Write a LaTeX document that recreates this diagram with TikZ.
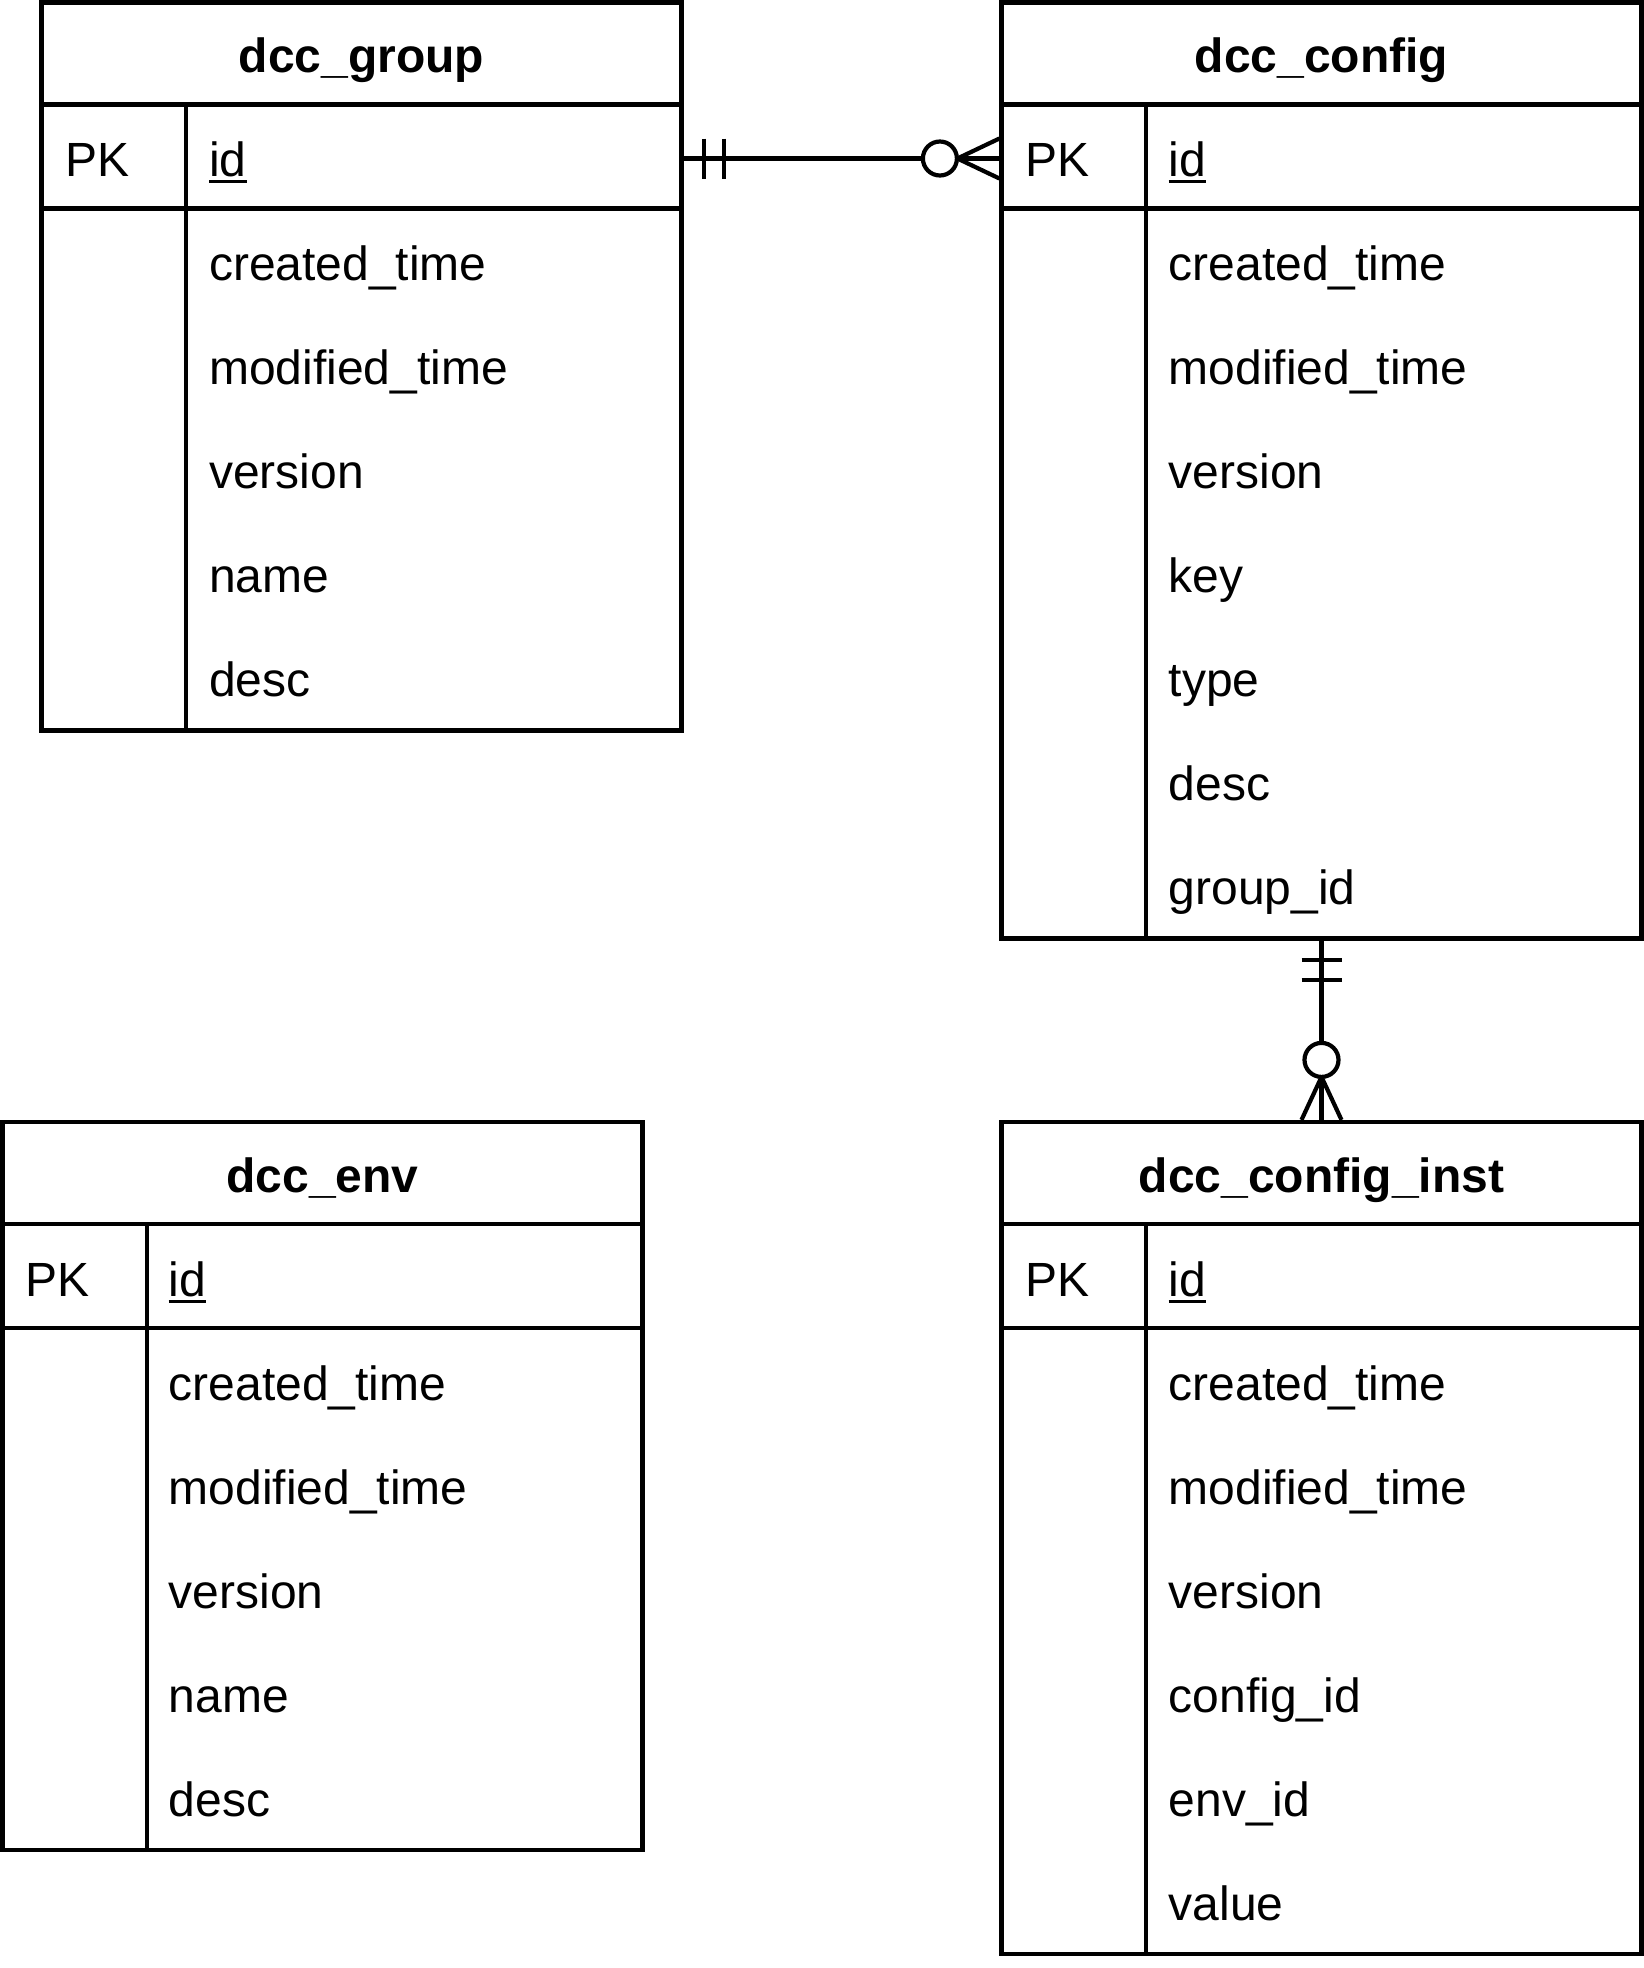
\documentclass[tikz,border=0pt]{standalone}
\usepackage{fontspec}
\setmainfont{Liberation Sans}
\usetikzlibrary{
  arrows.meta,
  positioning,
  calc
}

\begin{document}
\begin{tikzpicture}[
  x=1pt,y=-1pt,
  tablebox/.style={rectangle,draw,line width=4.2pt,minimum width=640pt,inner sep=0pt},
  rowline/.style={line width=4.2pt},
  title/.style={anchor=base,inner sep=0pt,font=\fontsize{48}{58}\selectfont\bfseries},
  keytext/.style={anchor=base west,inner sep=0pt,font=\fontsize{48}{58}\selectfont},
  field/.style={anchor=base west,inner sep=0pt,font=\fontsize{48}{58}\selectfont},
  keyline/.style={line width=3pt},
  relline/.style={line width=4.2pt},
]
\useasboundingbox (0,0) rectangle (1644,1968);

% dcc_group
\node[tablebox,minimum height=728pt] (group) at (361.5,366.5) {};
\draw[rowline] ([yshift=-104pt]group.north west) -- ([yshift=-104pt]group.north east);
\draw[rowline] ([yshift=-208pt]group.north west) -- ([yshift=-208pt]group.north east);
\draw[rowline] ([xshift=146.5pt,yshift=-104pt]group.north west) -- ([xshift=146.5pt]group.south west);
\node[title] (group-title) at (361.5,72.5) {dcc\_group};
\node[keytext] (group-pk) at (65,176.5) {PK};
\node[field] (group-id) at (209,176.5) {id};
\draw[keyline] ([yshift=-5pt]group-id.base west) -- ([yshift=-5pt]group-id.base east);
\node[field] (group-created) at (209,280.5) {created\_time};
\node[field] (group-modified) at (209,384.5) {modified\_time};
\node[field] (group-version) at (209,488.5) {version};
\node[field] (group-name) at (209,592.5) {name};
\node[field] (group-desc) at (209,696.5) {desc};

% dcc_config
\node[tablebox,minimum height=936pt] (config) at (1321.5,470.5) {};
\draw[rowline] ([yshift=-104pt]config.north west) -- ([yshift=-104pt]config.north east);
\draw[rowline] ([yshift=-208pt]config.north west) -- ([yshift=-208pt]config.north east);
\draw[rowline] ([xshift=146.5pt,yshift=-104pt]config.north west) -- ([xshift=146.5pt]config.south west);
\node[title] (config-title) at (1321.5,72.5) {dcc\_config};
\node[keytext] (config-pk) at (1025,176.5) {PK};
\node[field] (config-id) at (1168.5,176.5) {id};
\draw[keyline] ([yshift=-5pt]config-id.base west) -- ([yshift=-5pt]config-id.base east);
\node[field] (config-created) at (1168.5,280.5) {created\_time};
\node[field] (config-modified) at (1168.5,384.5) {modified\_time};
\node[field] (config-version) at (1168.5,488.5) {version};
\node[field] (config-key) at (1168.5,592.5) {key};
\node[field] (config-type) at (1168.5,696.5) {type};
\node[field] (config-desc) at (1168.5,800.5) {desc};
\node[field] (config-group) at (1168.5,904.5) {group\_id};

% dcc_env
\node[tablebox,minimum height=728pt] (env) at (322.5,1486) {};
\draw[rowline] ([yshift=-104pt]env.north west) -- ([yshift=-104pt]env.north east);
\draw[rowline] ([yshift=-208pt]env.north west) -- ([yshift=-208pt]env.north east);
\draw[rowline] ([xshift=146.5pt,yshift=-104pt]env.north west) -- ([xshift=146.5pt]env.south west);
\node[title] (env-title) at (322.5,1192) {dcc\_env};
\node[keytext] (env-pk) at (25,1296) {PK};
\node[field] (env-id) at (168.5,1296) {id};
\draw[keyline] ([yshift=-5pt]env-id.base west) -- ([yshift=-5pt]env-id.base east);
\node[field] (env-created) at (168.5,1400) {created\_time};
\node[field] (env-modified) at (168.5,1504) {modified\_time};
\node[field] (env-version) at (168.5,1608) {version};
\node[field] (env-name) at (168.5,1712) {name};
\node[field] (env-desc) at (168.5,1816) {desc};

% dcc_config_inst
\node[tablebox,minimum height=832pt] (inst) at (1321.5,1538) {};
\draw[rowline] ([yshift=-104pt]inst.north west) -- ([yshift=-104pt]inst.north east);
\draw[rowline] ([yshift=-208pt]inst.north west) -- ([yshift=-208pt]inst.north east);
\draw[rowline] ([xshift=146.5pt,yshift=-104pt]inst.north west) -- ([xshift=146.5pt]inst.south west);
\node[title] (inst-title) at (1321.5,1192) {dcc\_config\_inst};
\node[keytext] (inst-pk) at (1025,1296) {PK};
\node[field] (inst-id) at (1168.5,1296) {id};
\draw[keyline] ([yshift=-5pt]inst-id.base west) -- ([yshift=-5pt]inst-id.base east);
\node[field] (inst-created) at (1168.5,1400) {created\_time};
\node[field] (inst-modified) at (1168.5,1504) {modified\_time};
\node[field] (inst-version) at (1168.5,1608) {version};
\node[field] (inst-config) at (1168.5,1712) {config\_id};
\node[field] (inst-env) at (1168.5,1816) {env\_id};
\node[field] (inst-value) at (1168.5,1920) {value};

% group 1 -- n config
\coordinate (group-out) at (group.east |- 0,158.5);
\coordinate (config-in) at (config.west |- 0,158.5);
\draw[relline] (group-out) -- (config-in);
\draw[relline] ($(group-out)+(20.5,-20)$) -- ++(0,40);
\draw[relline] ($(group-out)+(40.5,-20)$) -- ++(0,40);
\draw[relline] ($(config-in)+(0,-20)$) -- ($(config-in)+(-42,0)$) -- ($(config-in)+(0,20)$);
\draw[relline,fill=white] ($(config-in)+(-59.5,0)$) circle[radius=17pt];

% config 1 -- n inst
\coordinate (config-out) at (config.south);
\coordinate (inst-in) at (inst.north);
\draw[relline] (config-out) -- (inst-in);
\draw[relline] ($(config-out)+(-20,19.5)$) -- ++(40,0);
\draw[relline] ($(config-out)+(-20,39.5)$) -- ++(40,0);
\draw[relline] ($(inst-in)+(-20,0)$) -- ($(inst-in)+(0,-43)$) -- ($(inst-in)+(20,0)$);
\draw[relline,fill=white] ($(inst-in)+(0,-60)$) circle[radius=17pt];
\end{tikzpicture}
\end{document}
